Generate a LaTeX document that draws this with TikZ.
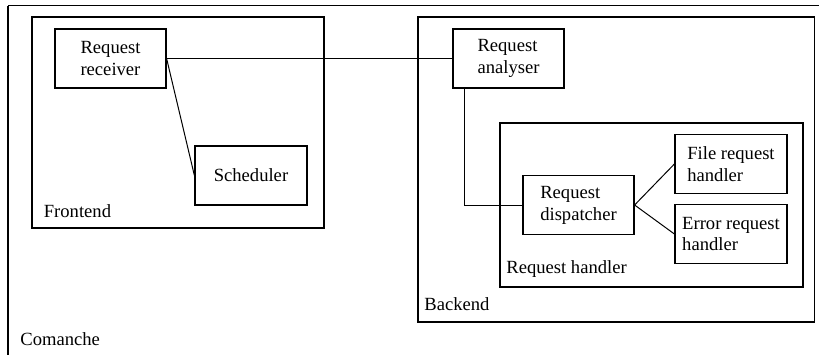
\documentclass[tikz,border=0pt]{standalone}
\usepackage{fontspec}
\setmainfont{Liberation Serif}
\begin{document}
\begin{tikzpicture}[x=0.5pt,y=-0.5pt,
  every node/.style={font=\fontsize{9.3}{10.9}\selectfont},
  box/.style={draw, line width=0.6pt, minimum width=55.5pt, minimum height=29.5pt, inner sep=0pt, align=left},
  container/.style={draw, line width=0.6pt, inner sep=0pt},
  lbl/.style={anchor=base west, inner sep=0pt},
  conn/.style={line width=0.5pt}]
\useasboundingbox (0,0) rectangle (819,354);
\clip (0,0) rectangle (819,354);
% outer Comanche frame (clipped at right and bottom)
\draw[line width=0.6pt] (8,5.5) -- (840,5.5);
\draw[line width=0.6pt] (8,5.5) -- (8,380);
\node[lbl] (comanche) at (20,345.5) {Comanche};
% Frontend
\node[container, minimum width=146pt, minimum height=105.5pt] (frontend) at (178,122.5) {};
\node[lbl] (frontendlbl) at (43.5,217.5) {Frontend};
% Backend
\node[container, minimum width=198.25pt, minimum height=152.5pt] (backend) at (616.25,169.5) {};
\node[lbl] (backendlbl) at (424,310) {Backend};
% Request handler
\node[container, minimum width=151.5pt, minimum height=82pt] (rhbox) at (651.5,205) {};
\node[lbl] (rhlbl) at (506,273) {Request handler};
% boxes
\node[box] (receiver) at (110.5,58.5) {Request\\receiver};
\node[box, minimum width=56pt] (scheduler) at (251,175.5) {Scheduler};
\node[box] (analyser) at (508.5,58.5) {Request\\analyser};
\node[box] (dispatcher) at (578.5,205) {Request\\dispatcher};
\node[box, minimum width=56pt] (file) at (731,164) {File request\\handler};
\node[box, minimum width=56pt] (error) at (731,234) {Error request\\handler};
% connectors
\coordinate (a1) at ([xshift=6pt]analyser.south west);
\draw[conn] (receiver.east) -- (analyser.west);
\draw[conn] (receiver.east) -- (scheduler.west);
\draw[conn] (a1) |- (dispatcher.west);
\draw[conn] (dispatcher.east) -- (file.west);
\draw[conn] (dispatcher.east) -- (error.west);
\end{tikzpicture}
\end{document}
